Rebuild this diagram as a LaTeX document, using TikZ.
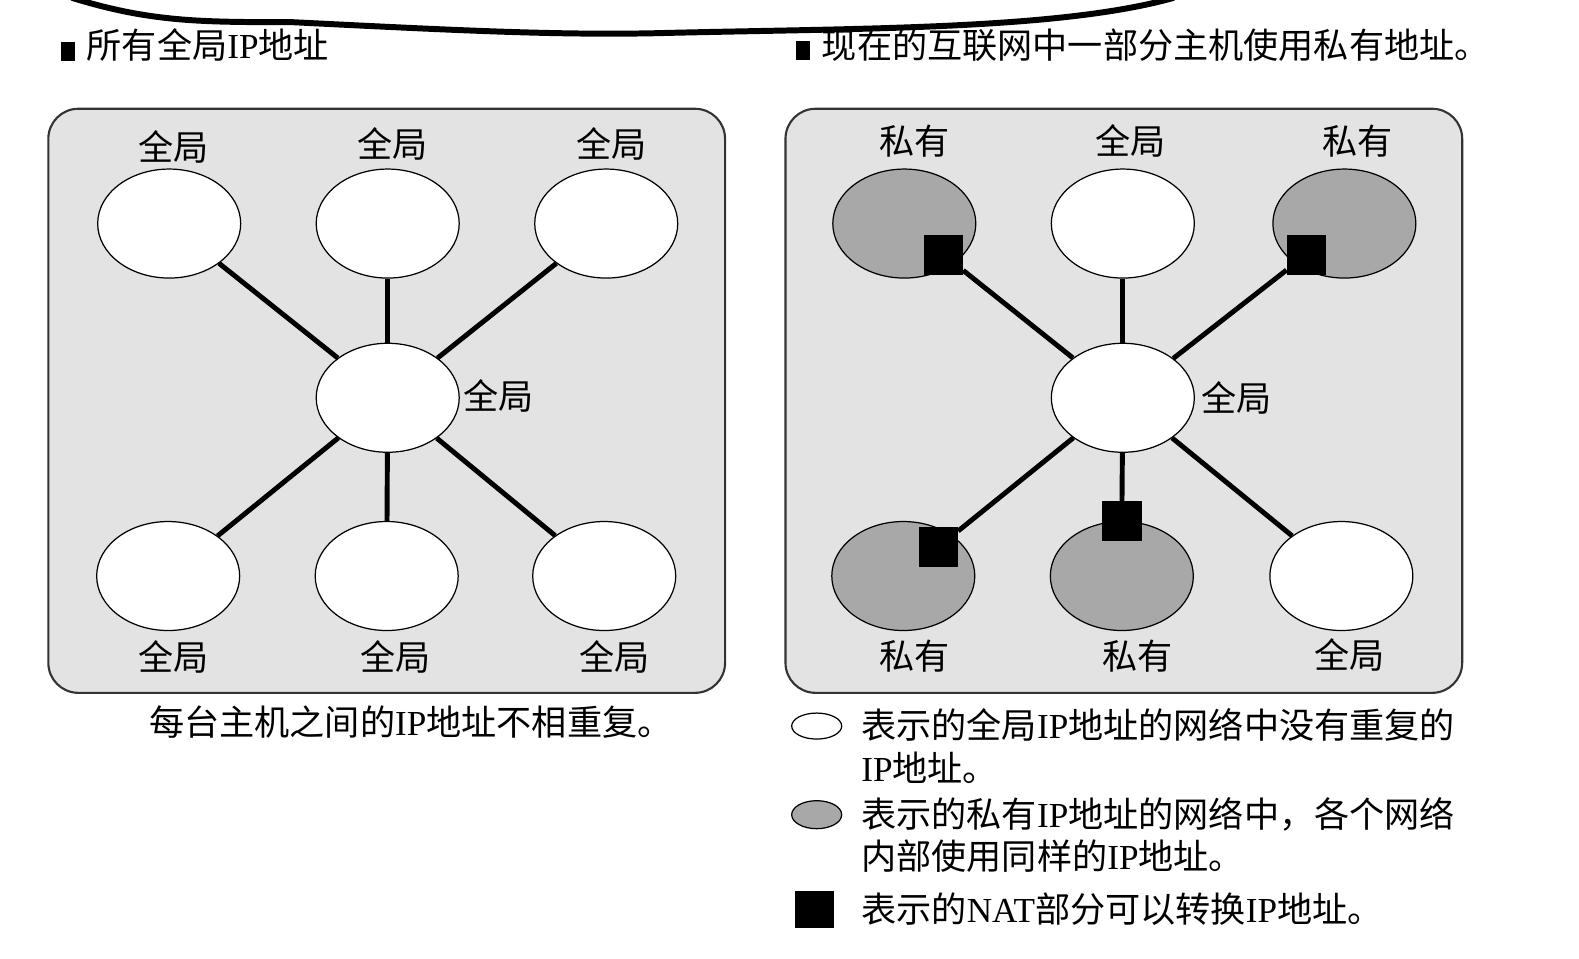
\documentclass[tikz,border=0pt]{standalone}
\usepackage{fontspec}
\setmainfont{Noto Sans CJK SC}
\newfontfamily\lat{Liberation Serif}
\usetikzlibrary{shapes.geometric}
\newcommand\ipx{{\lat IP}}
\newcommand\natx{{\lat NAT}}
\newcommand\bul{\rule[-1pt]{0.28cm}{0.38cm}\hspace{0.24cm}}
\begin{document}
\begin{tikzpicture}[x=0.02014cm, y=-0.02014cm,
  panel/.style={draw=black!80, line width=1.2pt, fill=black!11, rounded corners=0.6cm},
  pubnet/.style={ellipse, draw, line width=0.7pt, fill=white, minimum width=2.86cm, minimum height=2.18cm, inner sep=0pt},
  privnet/.style={pubnet, fill=black!34},
  natbox/.style={draw, fill=black, minimum size=0.77cm, inner sep=0pt},
  link/.style={line width=2.8pt},
  tag/.style={font=\fontsize{20}{24.1}\selectfont, inner sep=0pt, align=left}]
\useasboundingbox (0,0) rectangle (1568,952);
% curve at the top
\draw[line width=3.4pt, line cap=round] (72,-2) .. controls (150,22) and (200,22) .. (290,22)
  .. controls (450,30) and (550,35) .. (650,33) .. controls (850,28) and (1050,30) .. (1165,-2);
% titles
\node[tag, anchor=west] (title1) at (60,45) {\bul 所有全局\ipx 地址};
\node[tag, anchor=west] (title2) at (790,45) {\bul 现在的互联网中一部分主机使用私有地址。};
% left: all global
\draw[panel] (48,108) rectangle (720,688);
\node[pubnet] (lc) at (385,395) {};
\node[pubnet] (lt1) at (168,222) {};
\node[pubnet] (lt2) at (385,222) {};
\node[pubnet] (lt3) at (602,222) {};
\node[pubnet] (lb1) at (167,572) {};
\node[pubnet] (lb2) at (384,572) {};
\node[pubnet] (lb3) at (600,572) {};
\foreach \n in {lt1,lt2,lt3,lb1,lb2,lb3}
  \draw[link] (lc) -- (\n);
\node[tag] (lt1l) at (172,146) {全局};
\node[tag] (lt2l) at (390,143) {全局};
\node[tag] (lt3l) at (607,143) {全局};
\node[tag] (lcl) at (495,393) {全局};
\node[tag] (lb1l) at (172,652) {全局};
\node[tag] (lb2l) at (393,652) {全局};
\node[tag] (lb3l) at (610,652) {全局};
\node[tag] (cap) at (408,717) {每台主机之间的\ipx 地址不相重复。};
% right: some private
\draw[panel] (780,108) rectangle (1452,688);
\node[pubnet] (rc) at (1115,395) {};
\node[privnet] (rt1) at (898,222) {};
\node[pubnet] (rt2) at (1115,222) {};
\node[privnet] (rt3) at (1335,222) {};
\node[privnet] (rb1) at (897,572) {};
\node[privnet] (rb2) at (1114,572) {};
\node[pubnet] (rb3) at (1332,572) {};
\node[natbox] (na) at (937,253) {};
\node[natbox] (nb) at (1297,253) {};
\node[natbox] (nc) at (932,543) {};
\node[natbox] (nd) at (1114,517) {};
\foreach \n in {na,rt2,nb,nc,nd,rb3}
  \draw[link] (rc) -- (\n);
\node[tag] (rt1l) at (908,140) {私有};
\node[tag] (rt2l) at (1123,140) {全局};
\node[tag] (rt3l) at (1348,140) {私有};
\node[tag] (rcl) at (1228,395) {全局};
\node[tag] (rb1l) at (908,652) {私有};
\node[tag] (rb2l) at (1130,652) {私有};
\node[tag] (rb3l) at (1340,650) {全局};
% legend
\node[pubnet, minimum width=1cm, minimum height=0.52cm] (lg1) at (811,721) {};
\node[privnet, minimum width=1cm, minimum height=0.56cm] (lg2) at (811,809) {};
\node[natbox, minimum width=0.76cm, minimum height=0.72cm] (lg3) at (809,903) {};
\node[tag, anchor=west] (leg1) at (855,741) {表示的全局\ipx 地址的网络中没有重复的\\\ipx 地址。};
\node[tag, anchor=west] (leg2) at (855,829) {表示的私有\ipx 地址的网络中，各个网络\\内部使用同样的\ipx 地址。};
\node[tag, anchor=west] (leg3) at (855,903) {表示的\natx 部分可以转换\ipx 地址。};
\end{tikzpicture}
\end{document}
